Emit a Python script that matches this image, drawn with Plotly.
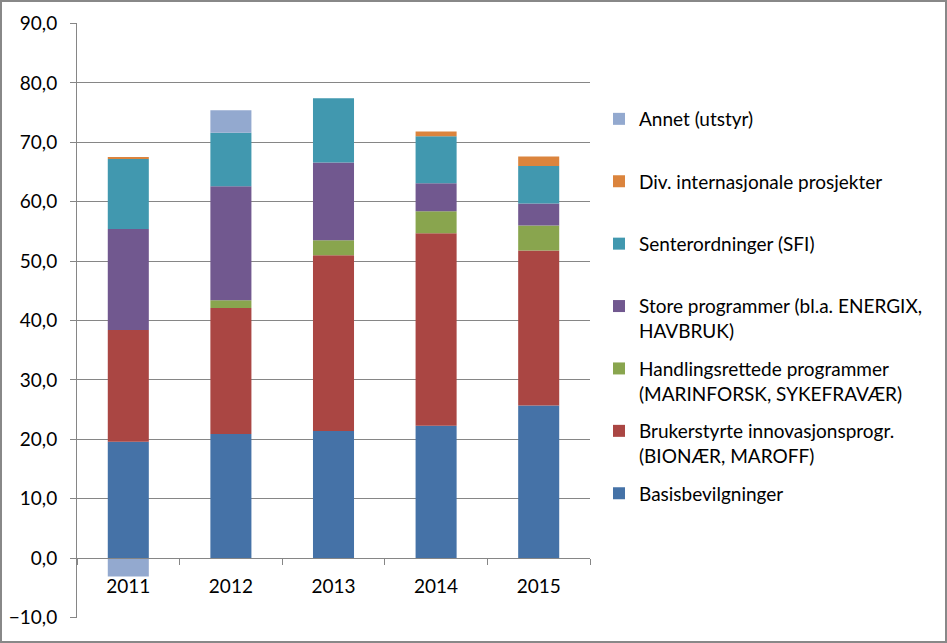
import plotly.graph_objects as go

years = ["2011", "2012", "2013", "2014", "2015"]

basis = [19.6, 20.9, 21.4, 22.3, 25.7]
bruker = [18.8, 21.2, 29.6, 32.4, 26.1]
handlings = [0.0, 1.3, 2.5, 3.7, 4.2]
store = [17.0, 19.2, 13.1, 4.7, 3.7]
sfi = [11.8, 9.0, 10.8, 7.9, 6.3]
div_int = [0.3, 0.0, 0.0, 0.8, 1.6]
annet = [-3.1, 3.8, 0.0, 0.0, 0.0]

series = [
    ("Basisbevilgninger<br> ", basis, "#4572A7"),
    ("Brukerstyrte innovasjonsprogr.<br>(BIONÆR, MAROFF)", bruker, "#AA4643"),
    ("Handlingsrettede programmer<br>(MARINFORSK, SYKEFRAVÆR)", handlings, "#89A54E"),
    ("Store programmer (bl.a. ENERGIX,<br>HAVBRUK)", store, "#71588F"),
    ("Senterordninger (SFI)<br> ", sfi, "#4198AF"),
    ("Div. internasjonale prosjekter<br> ", div_int, "#DB843D"),
    ("Annet (utstyr)<br> ", annet, "#93A9CF"),
]

y_ticks = [-10, 0, 10, 20, 30, 40, 50, 60, 70, 80, 90]
y_min, y_max = -10.08, 90.08

fig = go.Figure()
for i, (name, vals, color) in enumerate(series):
    fig.add_trace(go.Bar(
        x=years, y=vals, name=name, marker_color=color,
        marker_line_width=0, legendgroup=str(i),
        legendrank=1000 - i,
    ))

W, H = 947, 643
ml, mr, mt, mb = 77, 357, 23, 25
pw = W - ml - mr
ph = H - mt - mb
FONT = "Lato, Carlito, Calibri, sans-serif"
FS = 19
GRID = "#868686"

shapes = [dict(
    type="rect", xref="paper", yref="paper",
    x0=(1 - ml) / pw, x1=(W - 1 - ml) / pw,
    y0=-(mb - 1) / ph, y1=1 + (mt - 1) / ph,
    line=dict(color="#888888", width=2), fillcolor="rgba(0,0,0,0)",
    layer="above",
)]

fig.update_layout(
    width=W, height=H,
    margin=dict(l=ml, r=mr, t=mt, b=mb, pad=0, autoexpand=False),
    barmode="relative",
    bargap=0.6,
    separators=", ",
    paper_bgcolor="white",
    plot_bgcolor="white",
    font=dict(family=FONT, size=FS, color="#000000"),
    legend=dict(
        x=(599 - ml) / pw, xanchor="left",
        y=(H - mb - 100) / ph, yanchor="top",
        traceorder="grouped",
        tracegroupgap=10,
        valign="top",
        font=dict(family=FONT, size=FS, color="#000000"),
        bgcolor="rgba(0,0,0,0)",
    ),
    xaxis=dict(
        type="category",
        anchor="free",
        position=(0 - y_min) / (y_max - y_min),
        automargin=False,
        showline=True, linecolor=GRID, linewidth=1,
        ticks="outside", ticklen=6, tickcolor=GRID,
        tickson="boundaries",
        ticklabelstandoff=11,
        showgrid=False,
        tickfont=dict(family=FONT, size=FS, color="#000000"),
    ),
    yaxis=dict(
        range=[y_min, y_max],
        tickvals=y_ticks,
        tickformat=".1f",
        automargin=False,
        showline=True, linecolor=GRID, linewidth=1,
        ticks="outside", ticklen=6, tickcolor=GRID,
        showgrid=True, gridcolor=GRID, gridwidth=1,
        zeroline=False,
        ticklabelstandoff=9,
        tickfont=dict(family=FONT, size=FS, color="#000000"),
    ),
    shapes=shapes,
)

fig.write_html("out.html", config={"displayModeBar": False},
               post_script="document.body.style.margin='0';")
